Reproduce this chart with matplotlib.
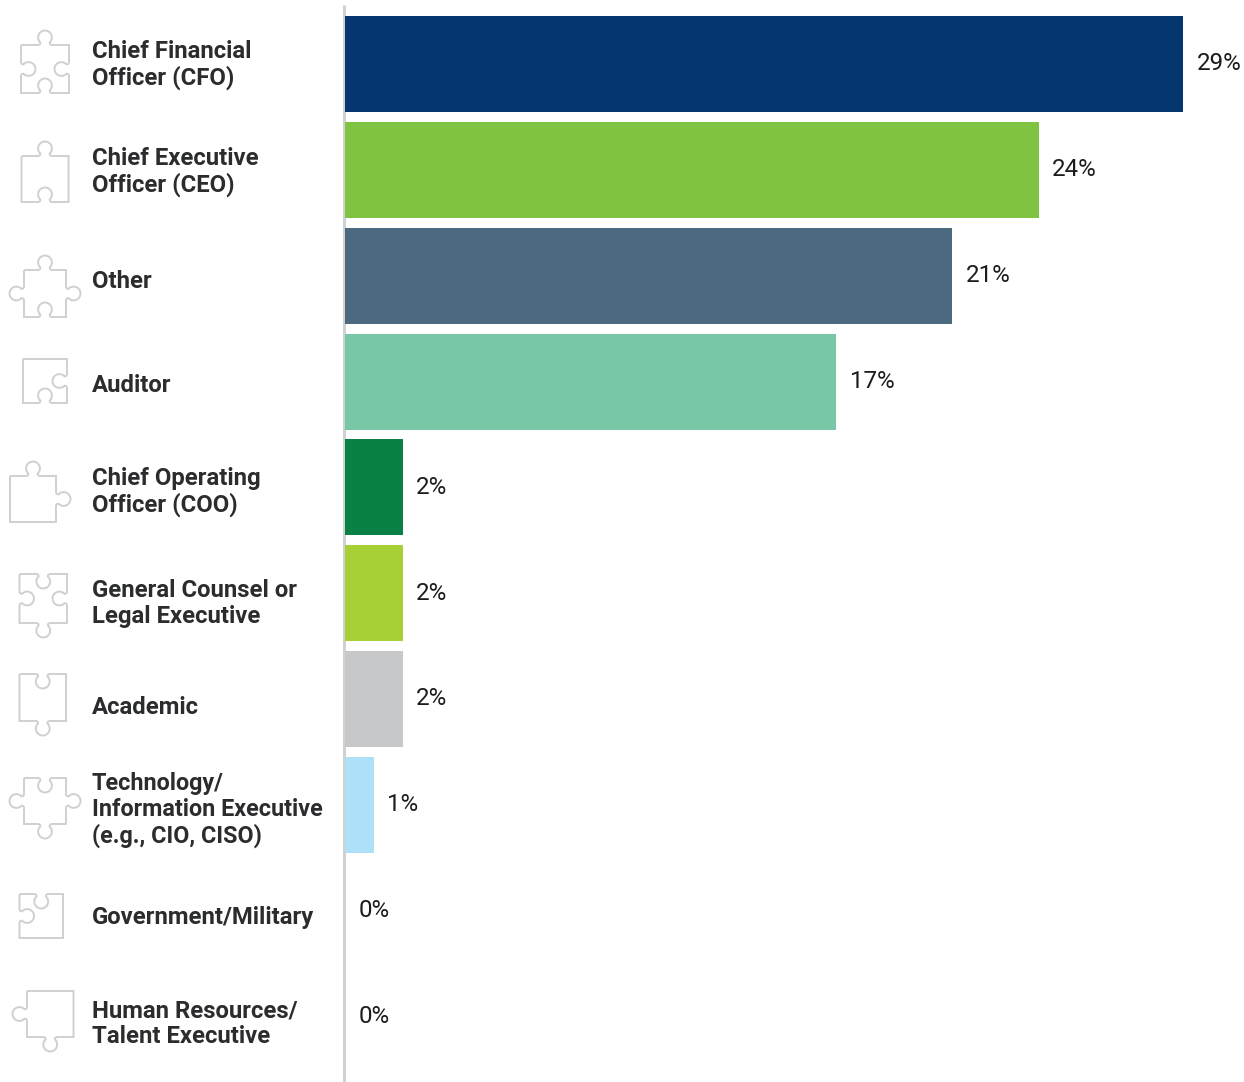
import numpy as np
import matplotlib
matplotlib.use("Agg")
import matplotlib.pyplot as plt
from matplotlib.patches import PathPatch
from matplotlib.path import Path

plt.rcParams['font.family'] = ['Roboto', 'DejaVu Sans']

categories = ["Chief Financial\nOfficer (CFO)", "Chief Executive\nOfficer (CEO)", "Other", "Auditor",
              "Chief Operating\nOfficer (COO)", "General Counsel or\nLegal Executive", "Academic",
              "Technology/\nInformation Executive\n(e.g., CIO, CISO)", "Government/Military",
              "Human Resources/\nTalent Executive"]
values = [29, 24, 21, 17, 2, 2, 2, 1, 0, 0]
value_labels = ["29%", "24%", "21%", "17%", "2%", "2%", "2%", "1%", "0%", "0%"]
colors = ["#06366f", "#80c342", "#4c6a7f", "#78c8a8", "#0a8144", "#a7d037", "#c7c8ca", "#aee0f7", "#ffffff", "#ffffff"]
label_y_px = [65, 172, 282, 386, 492, 603.5, 707, 810, 917.5, 1023.5]
label_size = [17.2, 17.2, 17.2, 17.2, 17.2, 17.2, 17.2, 16.85, 17.2, 17.2]

# Decorative puzzle icons: (x0, y0, x1, y1, top, right, bottom, left); +1 knob out, -1 knob in, 0 flat
icons = [
    (21, 45, 69, 93, 1, -1, -1, -1),
    (21.5, 156, 68.5, 202, 1, 0, -1, 0),
    (24, 270, 66, 317, 1, 1, -1, 1),
    (23, 359, 67, 403, 0, -1, -1, 0),
    (10, 476, 56, 522, 1, 1, 0, 0),
    (19.5, 574, 67, 623, -1, -1, 1, -1),
    (19.5, 674, 66, 721, -1, 0, 1, 0),
    (24, 778, 66, 824, -1, 1, 1, 1),
    (19.5, 894, 63, 938, -1, 0, 0, -1),
    (27, 991, 73.5, 1037, 0, 0, 1, 1),
]


def side(p0, p1, kind):
    """Points along one square edge from p0 to p1 with an optional knob."""
    p0, p1 = np.array(p0, float), np.array(p1, float)
    if kind == 0:
        return [p0]
    u = (p1 - p0) / np.linalg.norm(p1 - p0)
    n = np.array([u[1], -u[0]]) * kind  # outward normal for a clockwise walk (y down)
    mid = (p0 + p1) / 2
    r, d = 6.9, 7.6
    lim = np.pi - np.arccos((d - 2.5) / r)
    a = np.linspace(-lim, lim, 40)
    pts = [p0, mid - u * 6.6, mid - u * 5.0 + n * 0.8]
    for t in a:
        pts.append(mid + n * d + u * r * np.sin(t) + n * r * np.cos(t))
    pts += [mid + u * 5.0 + n * 0.8, mid + u * 6.6]
    return pts


def puzzle(x0, y0, x1, y1, top, right, bottom, left):
    pts = []
    pts += side((x0, y0), (x1, y0), top)
    pts += side((x1, y0), (x1, y1), right)
    pts += side((x1, y1), (x0, y1), bottom)
    pts += side((x0, y1), (x0, y0), left)
    pts.append(pts[0])
    return Path(np.array(pts), closed=False)


W, H = 1244, 1082
fig = plt.figure(figsize=(W / 100, H / 100), dpi=100, facecolor="white")

# Pixel overlay for labels, icons and the baseline rule
ov = fig.add_axes([0, 0, 1, 1])
ov.set_xlim(0, W)
ov.set_ylim(H, 0)
ov.axis("off")
for ic in icons:
    ov.add_patch(PathPatch(puzzle(*ic), fill=False, edgecolor="#d0d0d0", lw=1.4, joinstyle="miter"))
for name, y, fs in zip(categories, label_y_px, label_size):
    ov.text(91.7, y, name, ha="left", va="center", fontsize=fs, fontweight="bold",
            color="#2b2c2e", linespacing=1.15 * 17.2 / fs)
ov.plot([343.5, 343.5], [5, H], color="#d1d1d1", lw=2.2, solid_capstyle="butt")

# Bars
ax = fig.add_axes([345 / W, 0, (W - 345) / W, 1])
ax.patch.set_alpha(0)
ax.set_xlim(0, (W - 345) / 28.91)
ax.set_ylim((H - 63.8) / 105.9, -63.8 / 105.9)
ax.axis("off")
ypos = np.arange(len(values))
ax.barh(ypos, values, height=96 / 105.9, color=colors, linewidth=0)
for y, v, lab in zip(ypos, values, value_labels):
    ax.annotate(lab, (v, y), xytext=(13.3 * 0.72, 0.2), textcoords="offset points", ha="left", va="center",
                fontsize=17.4, color="#1c1c1c", annotation_clip=False)

fig.savefig("out.png", dpi=100, facecolor="white")
